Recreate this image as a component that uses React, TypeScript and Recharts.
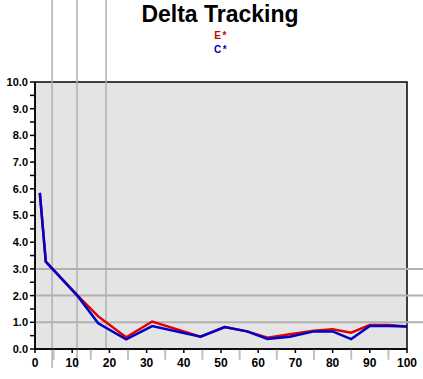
import React from 'react';
import { LineChart, Line, XAxis, YAxis, ReferenceLine, ReferenceArea } from 'recharts';

const xValues = [1.3, 2.9, 11.6, 17, 24.5, 31.5, 44.5, 51, 57, 62.5, 68.5, 75, 80, 85, 90, 95, 100];
const eStar = [5.85, 3.27, 1.98, 1.22, 0.44, 1.03, 0.46, 0.82, 0.66, 0.42, 0.55, 0.68, 0.74, 0.61, 0.9, 0.9, 0.84];
const cStar = [5.85, 3.27, 1.96, 0.96, 0.36, 0.86, 0.46, 0.82, 0.66, 0.38, 0.46, 0.66, 0.66, 0.37, 0.86, 0.86, 0.84];

const xTicks = [0, 10, 20, 30, 40, 50, 60, 70, 80, 90, 100];
const xMinorTicks = [5, 15, 25, 35, 45, 55, 65, 75, 85, 95];
const yTicks = [0, 0.5, 1, 1.5, 2, 2.5, 3, 3.5, 4, 4.5, 5, 5.5, 6, 6.5, 7, 7.5, 8, 8.5, 9, 9.5, 10];
const hGuides = [1, 2, 3];
const vGuidesLong = [4.6, 11.3];
const vGuidesShort = [19.1];

const data = xValues.map((x, i) => ({ x, e: eStar[i], c: cStar[i] }));

const FONT = "Arial, 'Liberation Sans', sans-serif";
const GUIDE = '#b0b0b0';

export default function App() {
  return (
    <div style={{ position: 'absolute', left: 0, top: 0, width: 423, height: 379, background: '#fff' }}>
      <LineChart width={423} height={379} data={data} margin={{ top: 82, right: 16, bottom: 0, left: 0 }}>
        <ReferenceArea x1={0} x2={100} y1={0} y2={10} fill="#e4e4e4" fillOpacity={1} stroke="#000" strokeWidth={1.5} ifOverflow="visible" />
        {hGuides.map((v) => (
          <ReferenceLine key={'h' + v} segment={[{ x: 0, y: v }, { x: 104.3, y: v }]} stroke={GUIDE} strokeWidth={2} ifOverflow="visible" />
        ))}
        {vGuidesLong.map((v) => (
          <ReferenceLine key={'vl' + v} segment={[{ x: v, y: 13.1 }, { x: v, y: -0.7 }]} stroke={GUIDE} strokeWidth={1.5} ifOverflow="visible" />
        ))}
        {vGuidesShort.map((v) => (
          <ReferenceLine key={'vs' + v} segment={[{ x: v, y: 13.1 }, { x: v, y: 0 }]} stroke={GUIDE} strokeWidth={1.5} ifOverflow="visible" />
        ))}
        {xMinorTicks.map((v) => (
          <ReferenceLine key={'m' + v} segment={[{ x: v, y: 0 }, { x: v, y: -0.4 }]} stroke="#c0c0c0" strokeWidth={2} ifOverflow="visible" />
        ))}
        <XAxis
          dataKey="x"
          type="number"
          domain={[0, 100]}
          ticks={xTicks}
          tickSize={4}
          tickMargin={5}
          height={30}
          stroke="#000"
          strokeWidth={1.5}
          tick={{ fill: '#000', fontSize: 12, fontWeight: 'bold', fontFamily: FONT }}
          interval={0}
        />
        <YAxis
          type="number"
          domain={[0, 10]}
          ticks={yTicks}
          width={35}
          tickSize={5}
          stroke="#000"
          strokeWidth={1.5}
          interval={0}
          tickFormatter={(v: number) => (Number.isInteger(v) ? v.toFixed(1) : '')}
          tick={{ fill: '#000', fontSize: 11, fontWeight: 'bold', fontFamily: FONT }}
        />
        <Line type="linear" dataKey="e" stroke="#e00000" strokeWidth={2.5} dot={false} isAnimationActive={false} />
        <Line type="linear" dataKey="c" stroke="#0000cc" strokeWidth={2.5} dot={false} isAnimationActive={false} />
      </LineChart>
      <svg width={423} height={379} style={{ position: 'absolute', left: 0, top: 0, pointerEvents: 'none' }}>
        <text x={220} y={22} textAnchor="middle" fontFamily={FONT} fontWeight="bold" fontSize={23} fill="#000">
          Delta Tracking
        </text>
        <text x={221} y={39} textAnchor="middle" fontFamily={FONT} fontWeight="bold" fontSize={10} letterSpacing={1.5} fill="#cc0000">
          E*
        </text>
        <text x={221} y={53} textAnchor="middle" fontFamily={FONT} fontWeight="bold" fontSize={10} letterSpacing={1.5} fill="#0000bb">
          C*
        </text>
      </svg>
    </div>
  );
}
